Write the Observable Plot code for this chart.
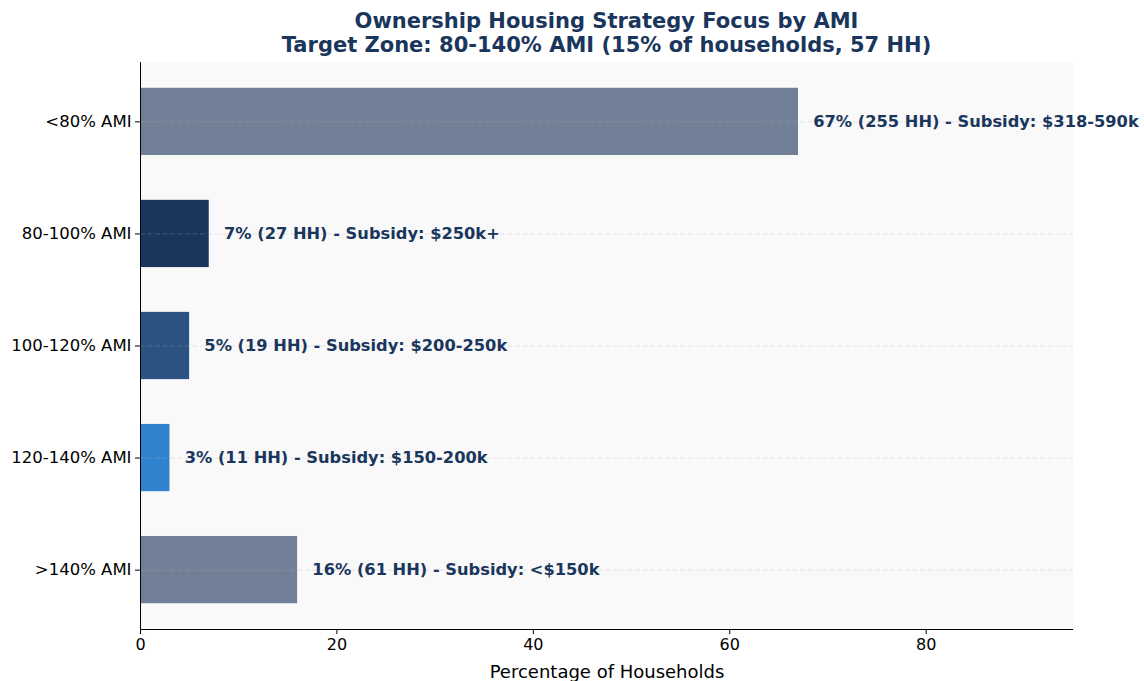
<!DOCTYPE html>
<html>
<head>
<meta charset="utf-8">
<script src="https://cdn.jsdelivr.net/npm/d3@7"></script>
<script src="https://cdn.jsdelivr.net/npm/@observablehq/plot@0.6"></script>
<style>
  html, body { margin: 0; padding: 0; background: #ffffff; }
  #title { box-sizing: border-box; width: 1144px; height: 62px; padding: 9px 71px 0 140px;
           font-family: "DejaVu Sans", sans-serif; font-weight: bold; font-size: 21px;
           line-height: 24px; color: #1a365d; text-align: center; }
</style>
</head>
<body>
<div id="title">Ownership Housing Strategy Focus by AMI<br>Target Zone: 80-140% AMI (15% of households, 57 HH)</div>
<div id="chart"></div>
<script>
const categories = ["<80% AMI", "80-100% AMI", "100-120% AMI", "120-140% AMI", ">140% AMI"];
const percents = [67, 7, 5, 3, 16];
const households = [255, 27, 19, 11, 61];
const subsidies = ["$318-590k", "$250k+", "$200-250k", "$150-200k", "<$150k"];
const colors = ["#718096", "#1a365d", "#2c5282", "#3182ce", "#718096"];
const xTicks = [0, 20, 40, 60, 80];

const data = categories.map((c, i) => ({
  i, category: c, value: percents[i], color: colors[i],
  label: `${percents[i]}% (${households[i]} HH) - Subsidy: ${subsidies[i]}`
}));

const barHalf = 0.3;
const yLo = -0.53, yHi = 4.53;

const chart = Plot.plot({
  width: 1144,
  height: 619,
  marginLeft: 140,
  marginRight: 71,
  marginTop: 0,
  marginBottom: 52,
  style: { fontFamily: "DejaVu Sans, sans-serif", fontSize: "16px", color: "#000", background: "transparent", overflow: "visible" },
  x: { domain: [0, 95], ticks: xTicks, label: "Percentage of Households" },
  y: { domain: [yHi, yLo], ticks: data.map(d => d.i), tickFormat: i => categories[i], label: null },
  marks: [
    Plot.frame({ fill: "#f9f9f9", stroke: null }),
    Plot.rectX(data, { x1: 0, x2: "value", y1: d => d.i - barHalf, y2: d => d.i + barHalf, fill: "color" }),
    Plot.ruleY(data, { y: "i", stroke: "#b0b0b0", strokeOpacity: 0.3, strokeDasharray: "5,2.5", strokeWidth: 1 }),
    Plot.ruleX([0], { stroke: "#000", strokeWidth: 1 }),
    Plot.ruleY([yHi], { stroke: "#000", strokeWidth: 1 }),
    Plot.axisX({ ticks: xTicks, tickSize: 5, tickPadding: 4, fontSize: 16, label: null }),
    Plot.axisX({ ticks: [], label: "Percentage of Households", labelAnchor: "center", labelArrow: "none", labelOffset: 48, fontSize: 18 }),
    Plot.axisY({ ticks: data.map(d => d.i), tickFormat: i => categories[i], tickSize: 5, tickPadding: 4, fontSize: 16.5, label: null }),
    Plot.text(data, { x: d => d.value + 1.5, y: "i", text: "label", textAnchor: "start", fontWeight: "bold", fill: "#1a365d", fontSize: 16.25 })
  ]
});
document.getElementById("chart").appendChild(chart);
</script>
</body>
</html>
